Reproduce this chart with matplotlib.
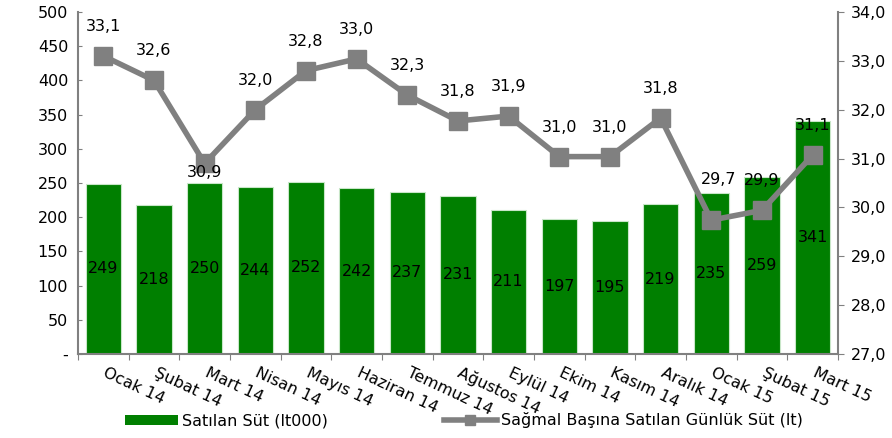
import numpy as np
import matplotlib
matplotlib.use("Agg")
import matplotlib.pyplot as plt
from matplotlib.patches import Patch
from matplotlib.lines import Line2D

aylar = ["Ocak 14", "Şubat 14", "Mart 14", "Nisan 14", "Mayıs 14", "Haziran 14",
         "Temmuz 14", "Ağustos 14", "Eylül 14", "Ekim 14", "Kasım 14", "Aralık 14",
         "Ocak 15", "Şubat 15", "Mart 15"]
satilan_sut = [249, 218, 250, 244, 252, 242, 237, 231, 211, 197, 195, 219, 235, 259, 341]
gunluk_sut = [33.1, 32.6, 30.9, 32.0, 32.8, 33.04, 32.3, 31.77, 31.87, 31.04, 31.04,
              31.83, 29.74, 29.94, 31.07]

plt.rcParams['font.family'] = ['DejaVu Sans']
fs = 11.5

green = '#007f00'
grey = '#808080'

fig = plt.figure(figsize=(8.92, 4.38), dpi=100)
ax = fig.add_axes([0.0874, 0.1918, 0.852, 0.7808])
x = np.arange(len(aylar))

# bars with value in the middle
ax.bar(x, satilan_sut, width=0.7, color=green, edgecolor='#c8e6c8', linewidth=0.8, zorder=2)
for xi, v in zip(x, satilan_sut):
    ax.text(xi, v / 2, str(v), ha='center', va='center', fontsize=fs, color='black', zorder=5)

ax.set_xlim(-0.5, len(aylar) - 0.5)
ax.set_ylim(0, 500)
ax.set_yticks(np.arange(0, 501, 50))
ax.set_yticklabels(['-'] + [str(v) for v in range(50, 501, 50)], fontsize=fs)
ax.set_xticks(np.arange(-0.5, len(aylar), 1.0))
ax.set_xticklabels([])
ax.tick_params(axis='x', length=4, color=grey, direction='out')
ax.tick_params(axis='y', length=3, color=grey, direction='in', pad=7)
for xi, lab in zip(x, aylar):
    ax.text(xi + 0.08, -16, lab, rotation=-25, rotation_mode='anchor', ha='left', va='top',
            fontsize=fs)

for s in ['top', 'right']:
    ax.spines[s].set_visible(False)
ax.spines['left'].set_color(grey)
ax.spines['bottom'].set_color(grey)
ax.spines['left'].set_linewidth(1.5)
ax.spines['bottom'].set_linewidth(1.5)

ax2 = ax.twinx()
ax2.plot(x, gunluk_sut, color=grey, linewidth=4, marker='s', markersize=13, zorder=3)
for i, (xi, v) in enumerate(zip(x, gunluk_sut)):
    lab = f"{v:.1f}".replace('.', ',')
    if i == 2:
        # label sits over the lower part of the marker
        ax2.text(xi, v - 0.18, lab, ha='center', va='center', fontsize=fs, zorder=6)
    elif i == 12:
        ax2.text(xi + 0.15, v + 0.68, lab, ha='center', va='bottom', fontsize=fs, zorder=6)
    else:
        ax2.text(xi, v + 0.45, lab, ha='center', va='bottom', fontsize=fs, zorder=6)
ax2.set_ylim(27, 34)
ax2.set_yticks(np.arange(27, 34.1, 1))
ax2.set_yticklabels([f"{v:.1f}".replace('.', ',') for v in np.arange(27, 34.1, 1)], fontsize=fs)
ax2.tick_params(axis='y', length=4, color=grey, direction='out', pad=5)
for s in ['top', 'left', 'bottom']:
    ax2.spines[s].set_visible(False)
ax2.spines['right'].set_color(grey)
ax2.spines['right'].set_linewidth(1.5)

handles = [Patch(facecolor=green, edgecolor='none'),
           Line2D([0], [0], color=grey, linewidth=4, marker='s', markersize=7)]
fig.legend(handles, ["Satılan Süt (lt000)", "Sağmal Başına Satılan Günlük Süt (lt)"],
           loc='center left', bbox_to_anchor=(0.14, 0.04), ncol=2, frameon=False,
           columnspacing=7.3, handlelength=3.3, handleheight=0.55, handletextpad=0.25,
           fontsize=fs, borderaxespad=0, borderpad=0)

fig.savefig('out.png', dpi=100)
